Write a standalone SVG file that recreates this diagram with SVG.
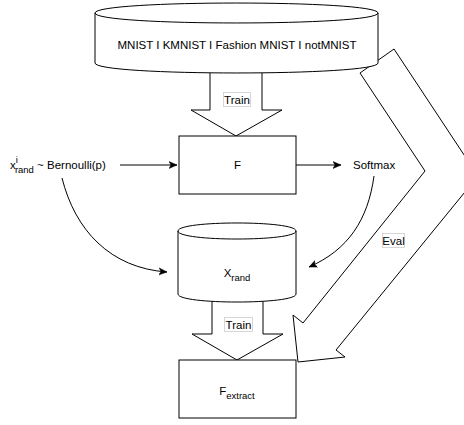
<svg xmlns="http://www.w3.org/2000/svg" width="464" height="425" viewBox="0 0 464 425">
<style>
.s{fill:#fff;stroke:#000;stroke-width:1}
.b{fill:#fff;stroke:#000;stroke-width:1;stroke-linejoin:miter}
.t{font-family:"Liberation Sans",Arial,sans-serif;font-size:11.5px;fill:#000}
.sub{font-size:9.5px}
.lb{fill:#fff;stroke:#ccc;stroke-width:0.8}
.e{fill:none;stroke:#000;stroke-width:1}
</style>
<defs>
<marker id="ah" markerUnits="userSpaceOnUse" markerWidth="10" markerHeight="10" refX="8" refY="4" orient="auto">
<path d="M0,0.5 L8,4 L0,7.5 L2,4 Z" fill="#000" stroke="#000" stroke-width="0.5"/>
</marker>
</defs>
<rect width="464" height="425" fill="#fff"/>
<g id="connectors">
<polygon class="b" points="210,70 262,70 262,110 282,110 236,136 191,110 210,110"/>
<polygon class="b" points="212,298 263,298 263,334 283,334 237,360 192,334 212,334"/>
<polygon class="b" points="360,73 394,49 478,176 336,350 345,357 298,362 293,315 303,323 425,171"/>
<line class="e" x1="120" y1="165" x2="177" y2="165" marker-end="url(#ah)"/>
<line class="e" x1="296" y1="165" x2="341" y2="165" marker-end="url(#ah)"/>
<path class="e" d="M62,178 C75,230 110,268 167,272" marker-end="url(#ah)"/>
<path class="e" d="M374,176 C368,220 348,250 309,267" marker-end="url(#ah)"/>
<rect class="lb" x="223.5" y="92.5" width="27" height="14"/>
<text class="t" x="237" y="103.5" text-anchor="middle">Train</text>
<rect class="lb" x="224.5" y="317.5" width="28" height="14"/>
<text class="t" x="238.5" y="328.5" text-anchor="middle">Train</text>
<rect class="lb" x="382.5" y="233.5" width="22" height="14"/>
<text class="t" x="393.5" y="244.5" text-anchor="middle">Eval</text>
</g>
<g id="datasets">
<path class="s" d="M95,13 C95,-0.3 378,-0.3 378,13 L378,63 C378,76.3 95,76.3 95,63 Z"/>
<path class="e" d="M95,13 C95,26.3 378,26.3 378,13"/>
<text class="t" x="237" y="49" text-anchor="middle">MNIST I KMNIST I Fashion MNIST I notMNIST</text>
</g>
<g id="F">
<rect class="s" x="179" y="136" width="117" height="58"/>
<text class="t" x="237.5" y="169" text-anchor="middle">F</text>
</g>
<g id="input">
<text class="t" x="10" y="169">x<tspan class="sub" dy="-6">i</tspan><tspan class="sub" dx="-3" dy="10">rand</tspan><tspan dy="-4"> ~ Bernoulli(p)</tspan></text>
</g>
<g id="softmax">
<text class="t" x="353" y="169">Softmax</text>
</g>
<g id="xrand">
<path class="s" d="M178,231 C178,220.3 296,220.3 296,231 L296,294 C296,304.7 178,304.7 178,294 Z"/>
<path class="e" d="M178,231 C178,241.7 296,241.7 296,231"/>
<text class="t" x="237" y="277" text-anchor="middle">X<tspan class="sub" dy="4">rand</tspan></text>
</g>
<g id="Fextract">
<rect class="s" x="179" y="360" width="117" height="58"/>
<text class="t" x="237" y="395" text-anchor="middle">F<tspan class="sub" dy="4">extract</tspan></text>
</g>
</svg>
